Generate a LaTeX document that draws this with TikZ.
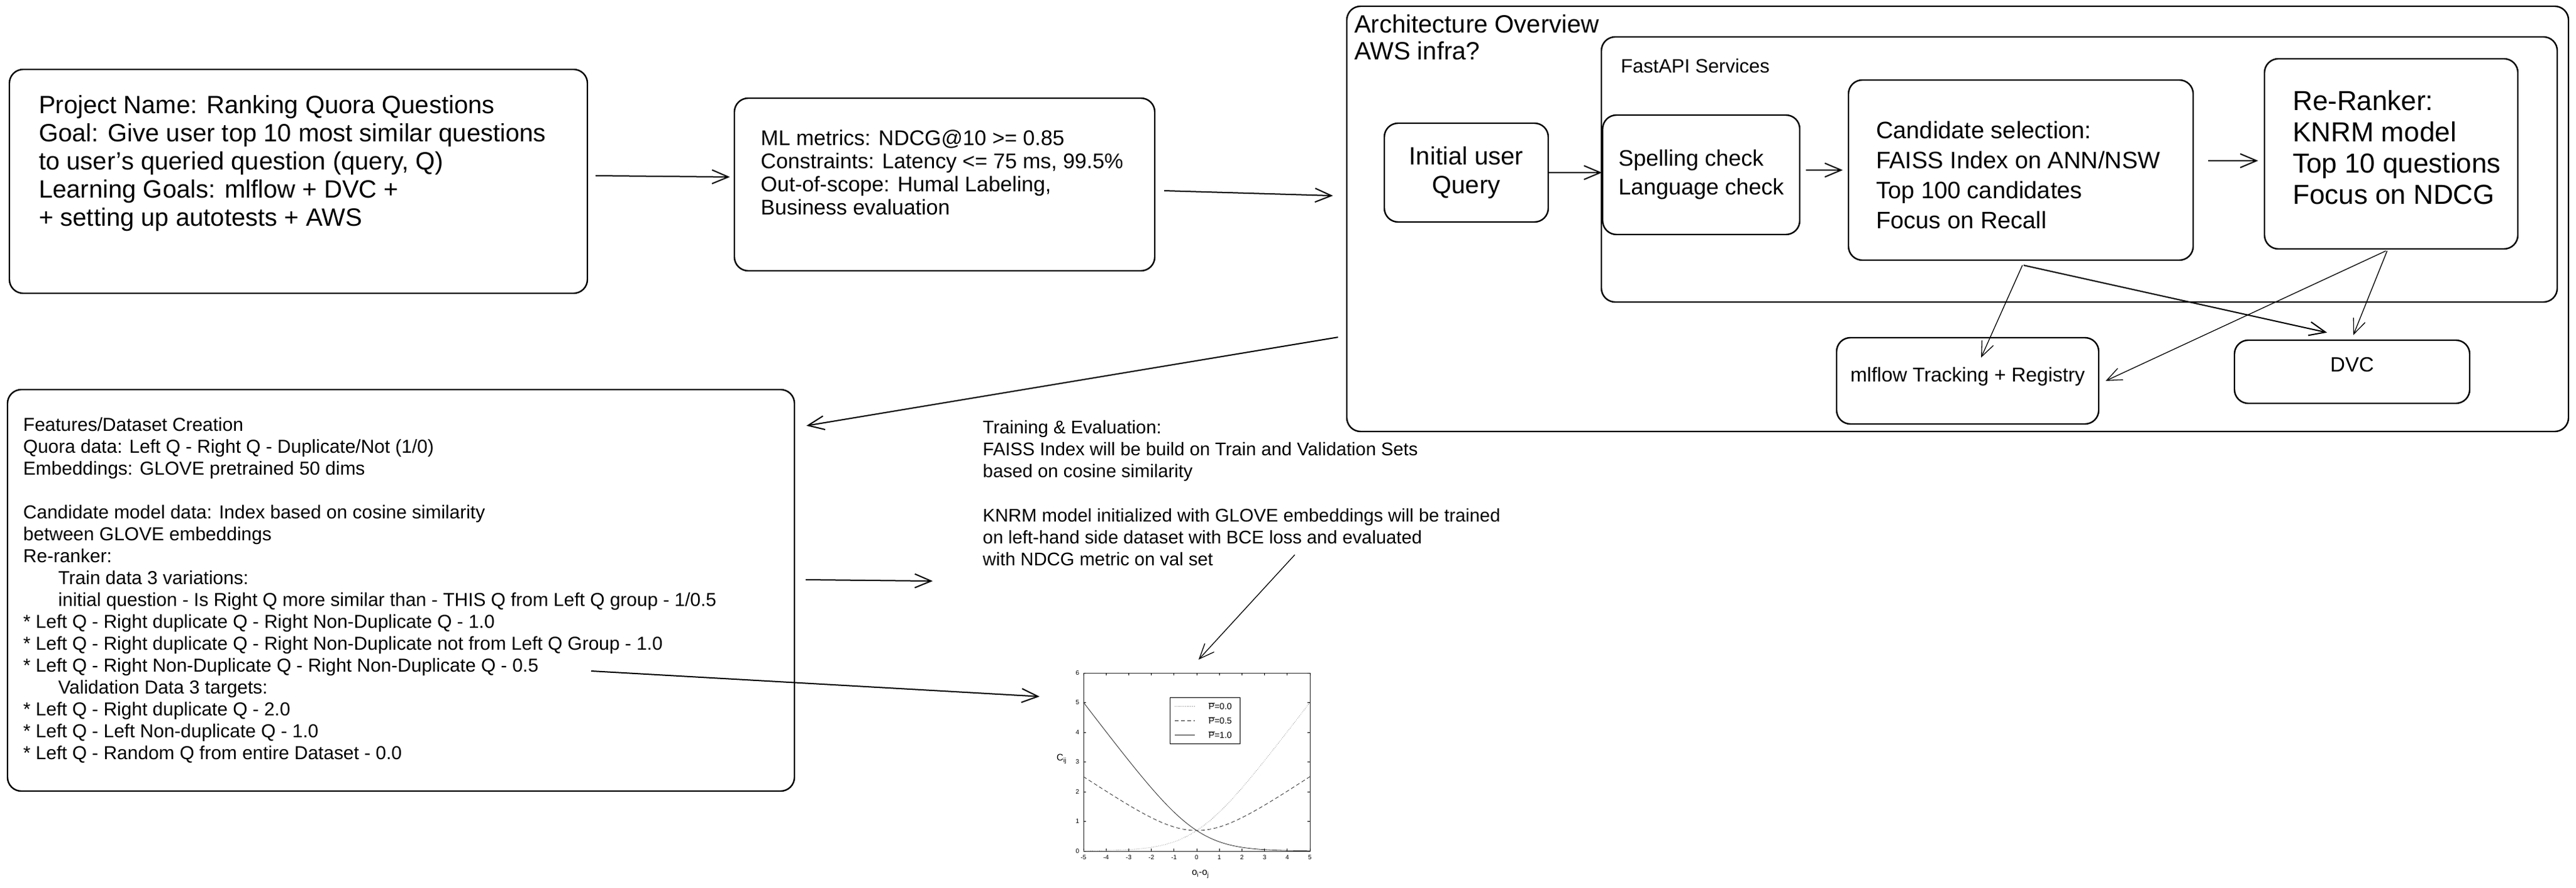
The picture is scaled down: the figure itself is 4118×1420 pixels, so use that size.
\documentclass[tikz,border=0pt]{standalone}
\usepackage{fontspec}
\setmainfont{Liberation Sans}
\usetikzlibrary{arrows.meta}

\begin{document}
\begin{tikzpicture}[x=1pt, y=-1pt,
    box/.style={draw, line width=2.4pt, rounded corners=22pt, inner sep=0pt},
    note/.style={anchor=north west, align=left, inner sep=0pt},
    arr/.style={line width=2pt, -{Straight Barb[length=26pt,width=22pt]}},
    thinarr/.style={line width=1.3pt, -{Straight Barb[length=24pt,width=20pt]}},
    ticklab/.style={font={\fontsize{10}{12}\selectfont}, inner sep=1pt}
  ]
    \useasboundingbox (0,0) rectangle (4118,1420);

    % project summary
    \node[box, minimum width=924pt, minimum height=358pt] (ProjectBox) at (477,290) {};
    \node[note, font={\fontsize{40}{45}\selectfont}] (ProjectText) at (62,152)
      {Project Name: Ranking Quora Questions\\
       Goal: Give user top 10 most similar questions\\
       to user's queried question (query, Q)\\
       Learning Goals: mlflow + DVC +\\
       + setting up autotests + AWS};

    % metrics
    \node[box, minimum width=672pt, minimum height=276pt] (MetricsBox) at (1510,295) {};
    \node[note, font={\fontsize{34}{37}\selectfont}] (MetricsText) at (1216,208)
      {ML metrics: NDCG@10 >= 0.85\\
       Constraints: Latency <= 75 ms, 99.5\%\\
       Out-of-scope: Humal Labeling,\\
       Business evaluation};

    % architecture
    \node[box, minimum width=1953pt, minimum height=680pt] (ArchBox) at (3129.5,350) {};
    \node[note, font={\fontsize{40}{43}\selectfont}] (ArchTitle) at (2165,23)
      {Architecture Overview\\AWS infra?};
    \node[box, minimum width=1528pt, minimum height=424pt] (ApiBox) at (3324,271) {};
    \node[note, font={\fontsize{31}{38}\selectfont}] (ApiTitle) at (2591,94) {FastAPI Services};
    \node[box, minimum width=262pt, minimum height=158pt, align=center,
      font={\fontsize{40}{46}\selectfont}] (QueryBox) at (2344,276) {Initial user\\Query};
    \node[box, minimum width=315pt, minimum height=191pt, align=left,
      font={\fontsize{36}{46}\selectfont}] (SpellBox) at (2719.5,279.5) {Spelling check\\Language check};
    \node[box, minimum width=551pt, minimum height=288pt] (CandBox) at (3230.5,272) {};
    \node[note, font={\fontsize{38}{48}\selectfont}] (CandText) at (2999,194)
      {Candidate selection:\\
       FAISS Index on ANN/NSW\\
       Top 100 candidates\\
       Focus on Recall};
    \node[box, minimum width=405pt, minimum height=304pt] (RerankBox) at (3822.5,246) {};
    \node[note, font={\fontsize{44}{50}\selectfont}] (RerankText) at (3665,144)
      {Re-Ranker:\\
       KNRM model\\
       Top 10 questions\\
       Focus on NDCG};
    \node[box, minimum width=419pt, minimum height=138pt, text depth=20pt,
      font={\fontsize{32}{38}\selectfont}] (MlflowBox) at (3145.5,609) {mlflow Tracking + Registry};
    \node[box, minimum width=376pt, minimum height=101pt, text depth=24pt,
      font={\fontsize{33}{38}\selectfont}] (DvcBox) at (3760,594.5) {DVC};

    % features
    \node[box, minimum width=1258pt, minimum height=642pt] (FeatBox) at (641,944) {};
    \node[note, font={\fontsize{30}{35}\selectfont}] (FeatText) at (37,668)
      {Features/Dataset Creation\\
       Quora data: Left Q - Right Q - Duplicate/Not (1/0)\\
       Embeddings: GLOVE pretrained 50 dims\\[35pt]
       Candidate model data: Index based on cosine similarity\\
       between GLOVE embeddings\\
       Re-ranker:\\
       \hspace*{56pt}Train data 3 variations:\\
       \hspace*{56pt}initial question - Is Right Q more similar than - THIS Q from Left Q group - 1/0.5\\
       * Left Q - Right duplicate Q - Right Non-Duplicate Q - 1.0\\
       * Left Q - Right duplicate Q - Right Non-Duplicate not from Left Q Group - 1.0\\
       * Left Q - Right Non-Duplicate Q - Right Non-Duplicate Q - 0.5\\
       \hspace*{56pt}Validation Data 3 targets:\\
       * Left Q - Right duplicate Q - 2.0\\
       * Left Q - Left Non-duplicate Q - 1.0\\
       * Left Q - Random Q from entire Dataset - 0.0};
    \coordinate (FeatLineEnd) at (945,1073);

    % training
    \node[note, font={\fontsize{29.3}{35.2}\selectfont}] (TrainText) at (1571,672)
      {Training \& Evaluation:\\
       FAISS Index will be build on Train and Validation Sets\\
       based on cosine similarity\\[35.2pt]
       KNRM model initialized with GLOVE embeddings will be trained\\
       on left-hand side dataset with BCE loss and evaluated\\
       with NDCG metric on val set};

    % cost chart
    \node[minimum width=460pt, minimum height=350pt, inner sep=0pt] (Chart) at (1880,1237) {};
    \coordinate (ChartOrigin) at (1913,1361);
    \begin{scope}[shift={(ChartOrigin)}, x=36.2pt, y=47.5pt, line width=0.8pt]
      \draw[black!85] (-5,0) rectangle (5,6);% Draw axes box
      \foreach \t in {-5,...,5} {
        \draw (\t,0) -- (\t,0.08) (\t,6) -- (\t,5.92);
        \node[ticklab, anchor=north] at (\t,-0.1) {\t};
      }
      \foreach \t in {0,...,6} {
        \draw (-5,\t) -- (-4.88,\t) (5,\t) -- (4.88,\t);
        \node[ticklab, anchor=east] at (-5.15,\t) {\t};
      }
      \draw[gray, dotted, domain=-5:5, samples=60, smooth, variable=\x]
        plot ({\x}, {ln(1+exp(\x))});
      \draw[black!85, dash pattern=on 6pt off 4pt, domain=-5:5, samples=60, smooth, variable=\x]
        plot ({\x}, {ln(1+exp(-\x))+0.5*\x});
      \draw[black!85, domain=-5:5, samples=60, smooth, variable=\x]
        plot ({\x}, {ln(1+exp(-\x))});
    \end{scope}
    \node[font={\fontsize{15}{18}\selectfont}] (ChartYLabel) at (1697,1214) {C\textsubscript{ij}};
    \node[font={\fontsize{15}{18}\selectfont}] (ChartXLabel) at (1919,1398) {o\textsubscript{i}-o\textsubscript{j}};
    \node[draw, line width=0.8pt, minimum width=112pt, minimum height=74pt] (Legend) at (1926,1152) {};
    \draw[gray, dotted, line width=0.8pt] (1878,1129) -- (1910,1129);
    \draw[black!85, dash pattern=on 6pt off 4pt, line width=0.8pt] (1878,1152) -- (1910,1152);
    \draw[black!85, line width=0.8pt] (1878,1175) -- (1910,1175);
    \node[anchor=west, inner sep=0pt, font={\fontsize{14}{16}\selectfont}] (LegendA) at (1932,1129) {$\overline{\mbox{P}}$=0.0};
    \node[anchor=west, inner sep=0pt, font={\fontsize{14}{16}\selectfont}] (LegendB) at (1932,1152) {$\overline{\mbox{P}}$=0.5};
    \node[anchor=west, inner sep=0pt, font={\fontsize{14}{16}\selectfont}] (LegendC) at (1932,1175) {$\overline{\mbox{P}}$=1.0};

    % connectors
    \draw[arr] ([xshift=12pt,yshift=9pt]ProjectBox.east) -- ([xshift=-6pt,yshift=12pt]MetricsBox.west);
    \draw[arr] ([xshift=14pt,yshift=-10pt]MetricsBox.east) -- ([xshift=-21pt,yshift=37pt]ArchBox.west);
    \draw[arr] ([xshift=-13pt,yshift=152pt]ArchBox.south west) -- ([xshift=18pt,yshift=-59pt]FeatBox.north east);
    \draw[arr] ([xshift=17pt,yshift=17pt]FeatBox.east) -- ([xshift=-80pt,yshift=-24pt]TrainText.south west);
    \draw[thinarr] ([xshift=85pt,yshift=18pt]TrainText.south) -- ([xshift=36pt,yshift=7pt]Chart.north);
    \draw[arr] (FeatLineEnd) -- ([xshift=12pt,yshift=-52pt]Chart.north west);
    \draw[arr] (QueryBox.east) -- (QueryBox.east -| SpellBox.west);
    \draw[arr, shorten <=9pt, shorten >=8pt] (SpellBox.east |- CandBox.west) -- (CandBox.west);
    \draw[arr] ([xshift=23pt,yshift=15pt]CandBox.east) -- ([xshift=-9pt,yshift=-11pt]RerankBox.west);
    \draw[thinarr] ([xshift=2.5pt,yshift=-7pt]CandBox.south) -- ([xshift=21.5pt,yshift=-33pt]MlflowBox.north);
    \draw[arr] ([xshift=4.5pt,yshift=-7pt]CandBox.south) -- ([xshift=-40pt,yshift=11pt]DvcBox.north);
    \draw[thinarr] ([xshift=-8.5pt,yshift=-2pt]RerankBox.south) -- ([xshift=10pt]MlflowBox.east);
    \draw[thinarr] ([xshift=-6.5pt,yshift=-2pt]RerankBox.south) -- ([xshift=2pt,yshift=7pt]DvcBox.north);
\end{tikzpicture}
\end{document}
